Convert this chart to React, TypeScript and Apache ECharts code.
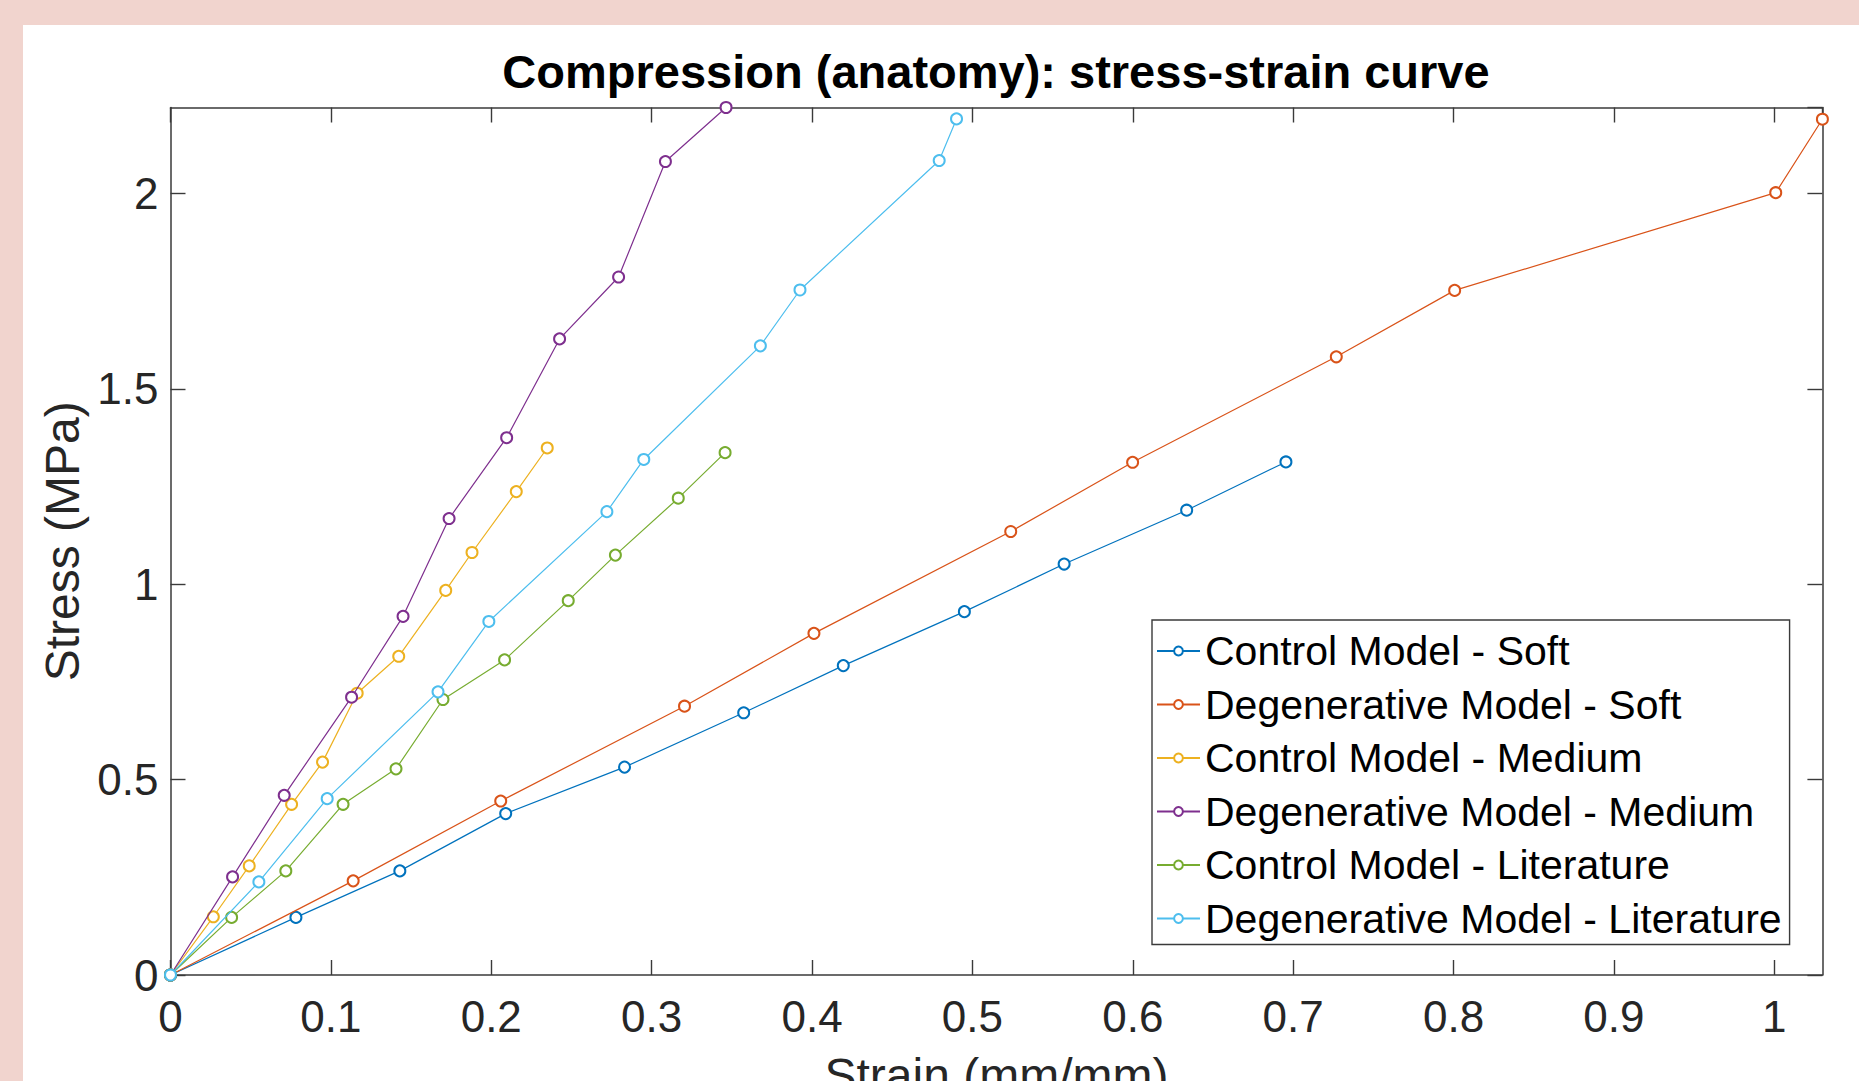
import React, { useEffect, useRef } from "react";
import * as echarts from "echarts";

// ---- Data (strain in mm/mm, stress in MPa) ----
const seriesNames = [
  "Control Model - Soft",
  "Degenerative Model - Soft",
  "Control Model - Medium",
  "Degenerative Model - Medium",
  "Control Model - Literature",
  "Degenerative Model - Literature",
];

const seriesColors = ["#0072BD", "#D95319", "#EDB120", "#7E2F8E", "#77AC30", "#4DBEEE"];

const controlSoftStrain = [0, 0.0782, 0.143, 0.209, 0.2831, 0.3574, 0.4195, 0.495, 0.5572, 0.6336, 0.6955];
const controlSoftStress = [0, 0.1474, 0.2664, 0.413, 0.532, 0.671, 0.7918, 0.9298, 1.0516, 1.1895, 1.313];

const degenSoftStrain = [0, 0.1139, 0.2059, 0.3205, 0.4012, 0.5239, 0.5999, 0.7269, 0.8007, 1.0009, 1.03];
const degenSoftStress = [0, 0.2409, 0.4452, 0.6879, 0.8743, 1.1349, 1.3121, 1.582, 1.752, 2.002, 2.19];

const controlMediumStrain = [0, 0.0267, 0.0491, 0.0755, 0.0948, 0.1164, 0.1423, 0.1716, 0.188, 0.2156, 0.2349];
const controlMediumStress = [0, 0.149, 0.2792, 0.4368, 0.5448, 0.7211, 0.8156, 0.9842, 1.0812, 1.237, 1.3487];

const degenMediumStrain = [0, 0.0387, 0.0709, 0.1129, 0.145, 0.1737, 0.2096, 0.2426, 0.2794, 0.3086, 0.3464];
const degenMediumStress = [0, 0.2511, 0.4598, 0.7109, 0.9178, 1.1681, 1.375, 1.6278, 1.7862, 2.0817, 2.22];

const controlLitStrain = [0, 0.0381, 0.0719, 0.1076, 0.1406, 0.1699, 0.2083, 0.248, 0.2774, 0.3166, 0.3458];
const controlLitStress = [0, 0.1474, 0.2664, 0.4368, 0.5275, 0.705, 0.8064, 0.9579, 1.0746, 1.2202, 1.3367];

const degenLitStrain = [0, 0.0551, 0.0977, 0.1668, 0.1985, 0.2721, 0.2951, 0.3678, 0.3925, 0.4793, 0.4901];
const degenLitStress = [0, 0.2383, 0.4513, 0.7246, 0.9047, 1.1857, 1.3193, 1.61, 1.753, 2.0843, 2.1908];

const strainSets = [controlSoftStrain, degenSoftStrain, controlMediumStrain, degenMediumStrain, controlLitStrain, degenLitStrain];
const stressSets = [controlSoftStress, degenSoftStress, controlMediumStress, degenMediumStress, controlLitStress, degenLitStress];

const xMin = 0;
const xMax = 1.03;
const xStep = 0.1;
const yMin = 0;
const yMax = 2.22;
const yStep = 0.5;

const titleText = "Compression (anatomy): stress-strain curve";
const xLabel = "Strain (mm/mm)";
const yLabel = "Stress (MPa)";

const FONT = '"Liberation Sans", Arial, Helvetica, sans-serif';
const AXIS_COLOR = "#3a3a3a";
const TEXT_COLOR = "#262626";

function fmt(v: number): string {
  return String(parseFloat(v.toFixed(2)));
}

export default function App() {
  const ref = useRef<HTMLDivElement>(null);

  useEffect(() => {
    if (!ref.current) return;
    const chart = echarts.init(ref.current, undefined, { renderer: "svg" });

    const grid = { left: 147.5, top: 82.5, right: 36.6, bottom: 106, outerBoundsMode: "none", containLabel: false };

    const mainAxisCommon = {
      axisLine: { show: true, onZero: false, lineStyle: { color: AXIS_COLOR, width: 1.5 } },
      axisTick: { show: true, inside: true, length: 15, lineStyle: { color: AXIS_COLOR, width: 1.4 } },
      splitLine: { show: false },
    };

    const series = seriesNames.map((name, i) => ({
      name,
      type: "line",
      xAxisIndex: 0,
      yAxisIndex: 0,
      data: strainSets[i].map((x, j) => [x, stressSets[i][j]]),
      symbol: "emptyCircle",
      symbolSize: 11,
      showSymbol: true,
      clip: false,
      lineStyle: { color: seriesColors[i], width: 1.2 },
      itemStyle: { color: seriesColors[i], borderColor: seriesColors[i], borderWidth: 1.1 },
      emphasis: { disabled: true },
      z: 2 + i,
    }));

    chart.setOption({
      animation: false,
      backgroundColor: "#ffffff",
      textStyle: { fontFamily: FONT },
      grid,
      graphic: [
        {
          type: "text",
          x: 973,
          y: 46,
          style: {
            text: titleText,
            fill: "#000000",
            fontSize: 47,
            fontWeight: "bold",
            fontFamily: FONT,
            align: "center",
            verticalAlign: "middle",
          },
        },
      ],
      legend: {
        orient: "vertical",
        left: 1129,
        top: 595,
        data: seriesNames,
        backgroundColor: "#ffffff",
        borderColor: AXIS_COLOR,
        borderWidth: 1.4,
        borderRadius: 0,
        padding: [8, 8, 3, 4],
        itemWidth: 43,
        itemHeight: 11,
        itemGap: 7.5,
        textStyle: { fontSize: 41, lineHeight: 46, color: "#000000", fontFamily: FONT },
        selectedMode: false,
      },
      xAxis: [
        {
          type: "value",
          position: "bottom",
          min: xMin,
          max: xMax,
          interval: xStep,
          ...mainAxisCommon,
          axisLabel: {
            show: true,
            margin: 19,
            fontSize: 44,
            color: TEXT_COLOR,
            fontFamily: FONT,
            showMaxLabel: false,
            formatter: (v: number) => fmt(v),
          },
          name: xLabel,
          nameLocation: "middle",
          nameGap: 76,
          nameTextStyle: { fontSize: 48, color: TEXT_COLOR, fontFamily: FONT },
        },
        {
          type: "value",
          position: "top",
          min: xMin,
          max: xMax,
          interval: xStep,
          ...mainAxisCommon,
          axisLabel: { show: false },
        },
      ],
      yAxis: [
        {
          type: "value",
          position: "left",
          min: yMin,
          max: yMax,
          interval: yStep,
          ...mainAxisCommon,
          axisLabel: {
            show: true,
            margin: 12,
            fontSize: 44,
            color: TEXT_COLOR,
            fontFamily: FONT,
            showMaxLabel: false,
            formatter: (v: number) => fmt(v),
          },
          name: yLabel,
          nameLocation: "middle",
          nameGap: 77,
          nameTextStyle: { fontSize: 48, color: TEXT_COLOR, fontFamily: FONT },
        },
        {
          type: "value",
          position: "right",
          min: yMin,
          max: yMax,
          interval: yStep,
          ...mainAxisCommon,
          axisLabel: { show: false },
        },
      ],
      series,
    });

    return () => {
      chart.dispose();
    };
  }, []);

  return (
    <div
      style={{
        position: "fixed",
        left: 0,
        top: 0,
        width: 1859,
        height: 1081,
        background: "#F1D4CE",
        overflow: "hidden",
      }}
    >
      <div
        ref={ref}
        style={{ position: "absolute", left: 23, top: 25, width: 1836, height: 1056 }}
      />
    </div>
  );
}
